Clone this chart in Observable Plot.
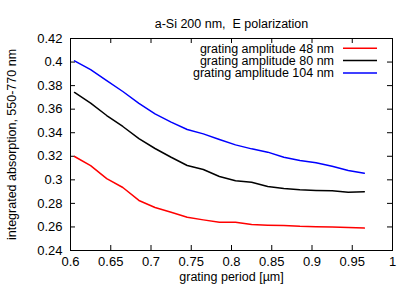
<!DOCTYPE html>
<html><head><meta charset="utf-8">
<script src="https://cdn.jsdelivr.net/npm/d3@7"></script>
<script src="https://cdn.jsdelivr.net/npm/@observablehq/plot@0.6"></script>
<style>body{margin:0;background:#fff}</style>
</head><body><div id="chart"></div>
<script>
const period = [0.605,0.625,0.645,0.665,0.685,0.705,0.725,0.745,0.765,0.785,0.805,0.825,0.845,0.865,0.885,0.905,0.925,0.945,0.965];
const amp48  = [0.3198,0.312,0.301,0.2935,0.2825,0.2765,0.2725,0.2683,0.266,0.264,0.264,0.262,0.2615,0.2612,0.2605,0.2602,0.260,0.2595,0.259];
const amp80  = [0.3742,0.3652,0.3546,0.3453,0.335,0.3266,0.3192,0.3122,0.3088,0.3028,0.2992,0.298,0.2943,0.2926,0.2915,0.291,0.2907,0.2895,0.2898];
const amp104 = [0.401,0.3936,0.3843,0.375,0.365,0.356,0.349,0.3427,0.339,0.3342,0.3297,0.3263,0.3235,0.3192,0.3164,0.3145,0.3116,0.308,0.3056];
const seriesNames = ["grating amplitude 48 nm","grating amplitude 80 nm","grating amplitude 104 nm"];
const seriesColors = ["#ff0000","#000000","#0000ff"];
const xTicks = [0.6,0.65,0.7,0.75,0.8,0.85,0.9,0.95,1];
const yTicks = [0.24,0.26,0.28,0.3,0.32,0.34,0.36,0.38,0.4,0.42];
const title = "a-Si 200 nm,  E polarization";
const xLabel = "grating period [µm]";
const yLabel = "integrated absorption, 550-770 nm";

const allSeries = [amp48, amp80, amp104];
const rows = allSeries.flatMap((vals, s) => vals.map((v, i) => ({period: period[i], value: v, series: seriesNames[s]})));
const fmt = d => String(+d.toFixed(2));

const W = 415, H = 291, mL = 70, mR = 23, mT = 38, mB = 41;
const innerW = W - mL - mR, innerH = H - mT - mB, tick = 5;
const font = "'Liberation Sans', Arial, sans-serif";

const plot = Plot.plot({
  width: W, height: H,
  marginLeft: mL, marginRight: mR, marginTop: mT, marginBottom: mB,
  style: {fontFamily: font, fontSize: "13px", background: "#fff", color: "#000"},
  x: {domain: [0.6, 1]},
  y: {domain: [0.24, 0.42]},
  color: {domain: seriesNames, range: seriesColors},
  marks: [
    Plot.ruleX(xTicks, {x: d => d, insetTop: innerH - tick, stroke: "#000"}),
    Plot.ruleX(xTicks, {x: d => d, insetBottom: innerH - tick, stroke: "#000"}),
    Plot.ruleY(yTicks, {y: d => d, insetRight: innerW - tick, stroke: "#000"}),
    Plot.ruleY(yTicks, {y: d => d, insetLeft: innerW - tick, stroke: "#000"}),
    Plot.axisX(xTicks, {anchor: "bottom", tickSize: 0, tickPadding: 6, tickFormat: fmt, label: null, fontSize: 13}),
    Plot.axisY(yTicks, {anchor: "left", tickSize: 0, tickPadding: 8, tickFormat: fmt, label: null, fontSize: 13}),
    Plot.line(rows, {x: "period", y: "value", z: "series", stroke: "series", strokeWidth: 1.5}),
    Plot.frame({stroke: "#000"}),
    Plot.text([title], {frameAnchor: "top", dy: -19, text: d => d, fontSize: 12.5}),
    Plot.text([xLabel], {frameAnchor: "bottom", dy: 30, text: d => d, fontSize: 12.5}),
    Plot.text([yLabel], {frameAnchor: "left", dx: -59, rotate: -90, textAnchor: "middle", text: d => d, fontSize: 12.5})
  ]
});
document.getElementById("chart").appendChild(plot);

// legend (inside top-right)
const svg = d3.select(plot);
const lg = svg.append("g").attr("font-family", font).attr("font-size", 12.5);
seriesNames.forEach((name, i) => {
  const y = 48.3 + i * 12.3;
  lg.append("text").attr("x", 334).attr("y", y).attr("dy", "0.35em").attr("text-anchor", "end").text(name);
  lg.append("line").attr("x1", 343).attr("x2", 377).attr("y1", y).attr("y2", y)
    .attr("stroke", seriesColors[i]).attr("stroke-width", 1.5);
});
</script></body></html>
